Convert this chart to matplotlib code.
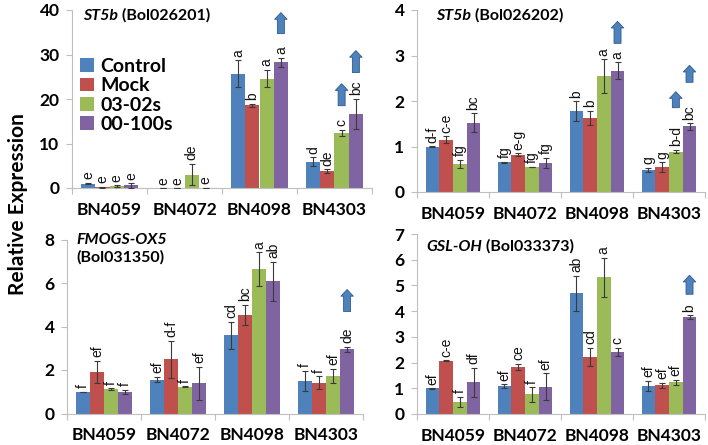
import matplotlib
matplotlib.use('Agg')
import matplotlib.pyplot as plt
from matplotlib.transforms import offset_copy
import numpy as np

plt.rcParams['font.family'] = ['Lato', 'DejaVu Sans']

groups = ['BN4059', 'BN4072', 'BN4098', 'BN4303']
series = ['Control', 'Mock', '03-02s', '00-100s']
colors = ['#4F81BD', '#C0504D', '#9BBB59', '#8064A2']

# ---- Panel A: ST5b (Bol026201)
a_control = [1.0, 0.0, 25.7, 5.9]
a_mock = [0.2, 0.0, 18.6, 3.8]
a_0302 = [0.4, 3.0, 24.6, 12.4]
a_00100 = [0.6, 0.05, 28.3, 16.7]
a_err_control = [0.15, 0.0, 3.0, 1.0]
a_err_mock = [0.1, 0.0, 0.3, 0.4]
a_err_0302 = [0.2, 2.4, 2.0, 0.7]
a_err_00100 = [0.5, 0.05, 1.0, 3.4]
a_let_control = ['e', 'e', 'a', 'd']
a_let_mock = ['e', 'e', 'b', 'de']
a_let_0302 = ['e', 'de', 'a', 'c']
a_let_00100 = ['e', 'e', 'a', 'bc']
a_yticks = [0, 10, 20, 30, 40]

# ---- Panel B: ST5b (Bol026202)
b_control = [1.00, 0.65, 1.77, 0.49]
b_mock = [1.15, 0.82, 1.63, 0.54]
b_0302 = [0.62, 0.55, 2.55, 0.89]
b_00100 = [1.52, 0.64, 2.67, 1.44]
b_err_control = [0.01, 0.02, 0.22, 0.04]
b_err_mock = [0.07, 0.03, 0.16, 0.11]
b_err_0302 = [0.09, 0.01, 0.37, 0.04]
b_err_00100 = [0.21, 0.11, 0.18, 0.07]
b_let_control = ['d-f', 'fg', 'b', 'g']
b_let_mock = ['c-e', 'e-g', 'b', 'g']
b_let_0302 = ['fg', 'fg', 'a', 'b-d']
b_let_00100 = ['bc', 'fg', 'a', 'bc']
b_yticks = [0, 1, 2, 3, 4]

# ---- Panel C: FMOGS-OX5 (Bol031350)
c_control = [1.0, 1.56, 3.6, 1.49]
c_mock = [1.92, 2.49, 4.53, 1.42]
c_0302 = [1.12, 1.23, 6.65, 1.72]
c_00100 = [1.0, 1.38, 6.08, 2.95]
c_err_control = [0.01, 0.12, 0.62, 0.47]
c_err_mock = [0.5, 0.85, 0.46, 0.3]
c_err_0302 = [0.03, 0.02, 0.77, 0.33]
c_err_00100 = [0.1, 0.77, 0.9, 0.13]
c_let_control = ['f', 'ef', 'cd', 'f']
c_let_mock = ['ef', 'd-f', 'bc', 'f']
c_let_0302 = ['f', 'f', 'a', 'ef']
c_let_00100 = ['f', 'ef', 'ab', 'de']
c_yticks = [0, 2, 4, 6, 8]

# ---- Panel D: GSL-OH (Bol033373)
d_control = [1.0, 1.09, 4.70, 1.09]
d_mock = [2.07, 1.83, 2.22, 1.12]
d_0302 = [0.48, 0.76, 5.31, 1.24]
d_00100 = [1.23, 1.06, 2.42, 3.77]
d_err_control = [0.01, 0.06, 0.68, 0.2]
d_err_mock = [0.02, 0.12, 0.35, 0.1]
d_err_0302 = [0.2, 0.28, 0.76, 0.1]
d_err_00100 = [0.56, 0.52, 0.15, 0.07]
d_let_control = ['ef', 'ef', 'ab', 'ef']
d_let_mock = ['c-e', 'ce', 'cd', 'ef']
d_let_0302 = ['f', 'f', 'a', 'ef']
d_let_00100 = ['df', 'ef', 'c', 'b']
d_yticks = [0, 1, 2, 3, 4, 5, 6, 7]

W, H = 708, 445
fig = plt.figure(figsize=(W / 100, H / 100), dpi=100)

def px_axes(left, right, top, bottom):
    return fig.add_axes([left / W, 1 - bottom / H, (right - left) / W, (bottom - top) / H])

panels = [
    dict(box=(72, 372, 10, 188), vals=[a_control, a_mock, a_0302, a_00100],
         errs=[a_err_control, a_err_mock, a_err_0302, a_err_00100],
         lets=[a_let_control, a_let_mock, a_let_0302, a_let_00100], yticks=a_yticks,
         title=('ST5b', ' (Bol026201)'), title_px=(83, 16),
         arrows=[(2, 3, 24, 21), (3, 2, 24, 22), (3, 3, 26, 22)]),
    dict(box=(417, 705, 10, 192), vals=[b_control, b_mock, b_0302, b_00100],
         errs=[b_err_control, b_err_mock, b_err_0302, b_err_00100],
         lets=[b_let_control, b_let_mock, b_let_0302, b_let_00100], yticks=b_yticks,
         title=('ST5b', ' (Bol026202)'), title_px=(436, 16),
         arrows=[(2, 3, 19, 22), (3, 2, 42, 16), (3, 3, 41, 17)]),
    dict(box=(67, 363, 239.5, 413.5), vals=[c_control, c_mock, c_0302, c_00100],
         errs=[c_err_control, c_err_mock, c_err_0302, c_err_00100],
         lets=[c_let_control, c_let_mock, c_let_0302, c_let_00100], yticks=c_yticks,
         title=('FMOGS-OX5', '\n(Bol031350)'), title_px=(76, 240),
         arrows=[(3, 3, 35, 22)]),
    dict(box=(417, 705, 234, 414), vals=[d_control, d_mock, d_0302, d_00100],
         errs=[d_err_control, d_err_mock, d_err_0302, d_err_00100],
         lets=[d_let_control, d_let_mock, d_let_0302, d_let_00100], yticks=d_yticks,
         title=('GSL-OH', ' (Bol033373)'), title_px=(426, 247),
         arrows=[(3, 3, 21, 19)]),
]

bw = 0.19
x = np.arange(len(groups))
axis_col = '#BFBFBF'
arrow_fc = '#4F81BD'
arrow_ec = '#2E5C8A'

first_ax = None
for p in panels:
    ax = px_axes(*p['box'])
    bars_handles = []
    for i, (v, e, l) in enumerate(zip(p['vals'], p['errs'], p['lets'])):
        xs = x + (i - 1.5) * bw
        b = ax.bar(xs, v, bw, color=colors[i], label=series[i], zorder=2)
        bars_handles.append(b)
        ax.errorbar(xs, v, yerr=e, fmt='none', ecolor='#3A3A3A', elinewidth=0.8,
                    capsize=2, capthick=0.8, zorder=3)
        for xi, vi, ei, li in zip(xs, v, e, l):
            ax.annotate(li, xy=(xi, vi + ei), xytext=(0, 2.5), textcoords='offset points',
                        rotation=90, ha='center', va='bottom', fontsize=10,
                        family=['Liberation Sans', 'DejaVu Sans'], color='#111111')
    ax.set_xlim(-0.5, len(groups) - 0.5)
    ax.set_ylim(p['yticks'][0], p['yticks'][-1])
    ax.set_yticks(p['yticks'])
    ax.set_yticklabels([str(t) for t in p['yticks']], fontsize=12.5, fontweight='bold')
    ax.set_xticks(x)
    ax.set_xticklabels(groups, fontsize=12.5, fontweight='bold')
    ax.set_xticks(np.arange(-0.5, len(groups)), minor=True)
    ax.tick_params(axis='x', which='major', length=0, pad=10)
    ax.tick_params(axis='x', which='minor', length=4, color=axis_col, width=0.8)
    ax.tick_params(axis='y', length=4, color=axis_col, width=0.8, pad=5)
    for s in ['top', 'right']:
        ax.spines[s].set_visible(False)
    for s in ['left', 'bottom']:
        ax.spines[s].set_color(axis_col)
        ax.spines[s].set_linewidth(0.8)
    ax.patch.set_alpha(0)

    # arrows (decoration)
    for (gi, si, base_px, len_px) in p['arrows']:
        xi = x[gi] + (si - 1.5) * bw
        top = p['vals'][si][gi] + p['errs'][si][gi]
        tr_base = offset_copy(ax.transData, fig=fig, y=base_px * 0.72, units='points')
        tr_tip = offset_copy(ax.transData, fig=fig, y=(base_px + len_px) * 0.72, units='points')
        ax.annotate('', xy=(xi, top), xycoords=tr_tip, xytext=(xi, top), textcoords=tr_base,
                    arrowprops=dict(arrowstyle='simple,head_length=0.4,head_width=0.75,tail_width=0.42',
                                    mutation_scale=12, fc=arrow_fc, ec=arrow_ec, lw=0.6,
                                    shrinkA=0, shrinkB=0), annotation_clip=False)

    # title
    tx, ty = p['title_px']
    t1 = fig.text(tx / W, 1 - ty / H, p['title'][0], fontsize=11.5, fontweight='bold',
                  fontstyle='italic', va='center', ha='left')
    if p['title'][1].startswith('\n'):
        fig.text(tx / W, 1 - (ty + 17) / H, p['title'][1].strip(), fontsize=11.5,
                 fontweight='bold', va='center', ha='left')
    else:
        ax.annotate(p['title'][1], xy=(1, 0), xycoords=t1, va='bottom', ha='left',
                    fontsize=11.5, fontweight='bold')
    if first_ax is None:
        first_ax = ax
        leg = fig.legend(handles=bars_handles, labels=series, loc='upper left',
                         bbox_to_anchor=(80 / W, 1 - 58 / H), bbox_transform=fig.transFigure,
                         frameon=False, prop=dict(weight='bold', size=14),
                         handlelength=0.7, handleheight=0.7, handletextpad=0.35,
                         labelspacing=0.12, borderpad=0, borderaxespad=0)

fig.text(18 / W, 1 - 204 / H, 'Relative Expression', rotation=90, ha='center', va='center',
         fontsize=15, fontweight='bold')

fig.savefig('out.png', dpi=100)
